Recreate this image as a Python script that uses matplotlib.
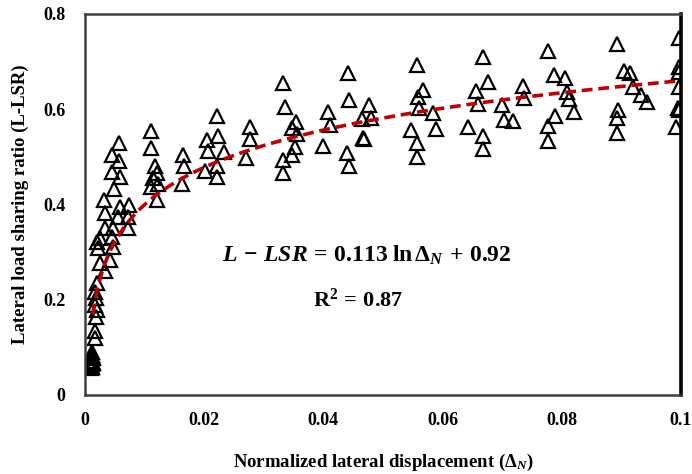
import numpy as np
import matplotlib
matplotlib.use('Agg')
import matplotlib.pyplot as plt

# measured points (normalized displacement, L-LSR)
disp = [
    0.0057, 0.0045, 0.0057, 0.0045, 0.0059, 0.0049, 0.0032, 0.0059, 0.0074, 0.0034,
    0.0055, 0.0072, 0.0034, 0.0047, 0.0072, 0.0025, 0.0045, 0.0047, 0.0022, 0.0020,
    0.0042, 0.0025, 0.0034, 0.0020, 0.0017, 0.0019, 0.0017, 0.0020, 0.0019, 0.0017,
    0.0017,
    0.0010, 0.0012, 0.0011, 0.0013, 0.0012, 0.0011, 0.0013, 0.0010, 0.0012, 0.0011,
    0.0111, 0.0111, 0.0117, 0.0121, 0.0114, 0.0123, 0.0111, 0.0121,
    0.0164, 0.0166, 0.0163,
    0.0222, 0.0205, 0.0223, 0.0206, 0.0233, 0.0201, 0.0222, 0.0222,
    0.0277, 0.0277, 0.0270,
    0.0332, 0.0336, 0.0354, 0.0347, 0.0356, 0.0352, 0.0347, 0.0332, 0.0332,
    0.0408, 0.0411, 0.0399,
    0.0441, 0.0443, 0.0440, 0.0443,
    0.0477, 0.0465, 0.0480, 0.0466, 0.0468,
    0.0557, 0.0567, 0.0559, 0.0560, 0.0584, 0.0589, 0.0547, 0.0557, 0.0557,
    0.0668, 0.0676, 0.0656, 0.0659, 0.0700, 0.0703, 0.0718, 0.0643, 0.0668, 0.0668,
    0.0735, 0.0737,
    0.0777, 0.0787, 0.0805, 0.0809, 0.0812, 0.0821, 0.0789, 0.0777, 0.0777,
    0.0893, 0.0904, 0.0914, 0.0920, 0.0933, 0.0943, 0.0894, 0.0893, 0.0893,
    0.0997, 0.0997, 0.0997, 0.0997, 0.0997, 0.0995, 0.0992,
]
lsr = [
    0.529, 0.504, 0.492, 0.468, 0.458, 0.433, 0.410, 0.395, 0.399, 0.382,
    0.374, 0.374, 0.351, 0.351, 0.351, 0.330, 0.332, 0.311, 0.309, 0.321,
    0.284, 0.277, 0.261, 0.235, 0.216, 0.204, 0.189, 0.179, 0.164, 0.134,
    0.120,
    0.060, 0.065, 0.072, 0.078, 0.085, 0.090, 0.068, 0.056, 0.058, 0.082,
    0.555, 0.519, 0.481, 0.466, 0.456, 0.443, 0.437, 0.410,
    0.504, 0.481, 0.443,
    0.586, 0.536, 0.544, 0.513, 0.511, 0.471, 0.481, 0.458,
    0.563, 0.538, 0.498,
    0.655, 0.605, 0.574, 0.561, 0.548, 0.521, 0.504, 0.494, 0.466,
    0.595, 0.567, 0.523,
    0.676, 0.620, 0.508, 0.481,
    0.609, 0.580, 0.582, 0.540, 0.538,
    0.693, 0.641, 0.626, 0.603, 0.592, 0.559, 0.557, 0.529, 0.500,
    0.710, 0.658, 0.639, 0.611, 0.609, 0.578, 0.576, 0.563, 0.544, 0.517,
    0.649, 0.624,
    0.723, 0.672, 0.666, 0.637, 0.622, 0.595, 0.586, 0.565, 0.534,
    0.737, 0.681, 0.676, 0.647, 0.630, 0.616, 0.599, 0.582, 0.550,
    0.750, 0.689, 0.679, 0.647, 0.599, 0.602, 0.563,
]

# fitted trend: L-LSR = a ln(dN) + b
fit_a = 0.113
fit_b = 0.92
fit_range = (0.0013, 0.1)

xticks = [0, 0.02, 0.04, 0.06, 0.08, 0.1]
xticklabels = ['0', '0.02', '0.04', '0.06', '0.08', '0.1']
yticks = [0, 0.2, 0.4, 0.6, 0.8]
yticklabels = ['0', '0.2', '0.4', '0.6', '0.8']

plt.rcParams['font.family'] = ['Liberation Serif', 'DejaVu Serif']
plt.rcParams['mathtext.fontset'] = 'custom'
plt.rcParams['mathtext.rm'] = 'Liberation Serif:bold'
plt.rcParams['mathtext.it'] = 'Liberation Serif:italic:bold'
plt.rcParams['mathtext.bf'] = 'Liberation Serif:bold'

fig = plt.figure(figsize=(6.92, 4.74), dpi=100)
ax = fig.add_axes([0.1228, 0.1667, 0.8612, 0.8038])

ax.plot(disp, lsr, linestyle='none', marker='^', markersize=10,
        markerfacecolor='none', markeredgecolor='black', markeredgewidth=1.6)

xf = np.geomspace(fit_range[0], fit_range[1], 200)
ax.plot(xf, fit_a * np.log(xf) + fit_b, color='#c00000', lw=2.6,
        dashes=(3, 1.6))

ax.set_xlim(0, 0.1)
ax.set_ylim(0, 0.8)
ax.set_xticks(xticks)
ax.set_xticklabels(xticklabels)
ax.set_yticks(yticks)
ax.set_yticklabels(yticklabels)
ax.tick_params(length=0, labelsize=13)
ax.tick_params(axis='y', pad=14)
ax.tick_params(axis='x', pad=12)
for t in ax.get_xticklabels() + ax.get_yticklabels():
    t.set_fontweight('bold')

for side in ['left', 'top', 'bottom']:
    ax.spines[side].set_color('#404040')
    ax.spines[side].set_linewidth(1.8)
ax.spines['right'].set_color('black')
ax.spines['right'].set_linewidth(2.6)

ax.set_ylabel('Lateral load sharing ratio (L-LSR)', fontsize=13.5,
              fontweight='bold', labelpad=10)
ax.set_xlabel(r'Normalized lateral displacement ($\Delta_N$)', fontsize=13.5,
              fontweight='bold', labelpad=17)

ax.text(0.0473, 0.294, r'$L\/-\/LSR\/=\/0.113\;\mathrm{ln}\,\Delta_N\/+\/0.92$',
        fontsize=17, ha='center', va='center')
ax.text(0.0458, 0.200, r'$\mathrm{R^2\/=\/0.87}$', fontsize=16,
        ha='center', va='center')

fig.savefig('out.png', dpi=100)
